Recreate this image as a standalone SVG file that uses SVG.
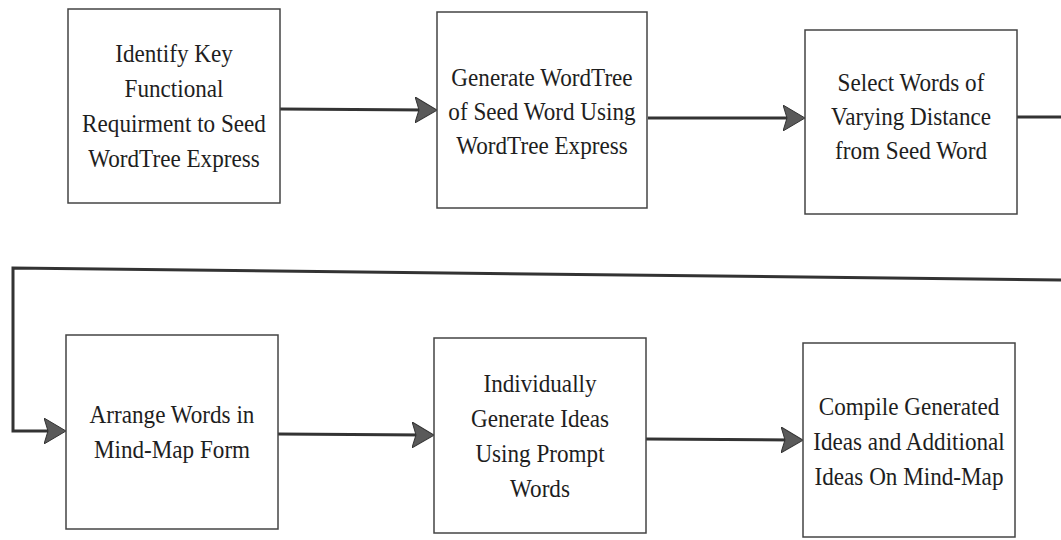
<svg xmlns="http://www.w3.org/2000/svg" width="1061" height="540" viewBox="0 0 1061 540">
<style>
.box{fill:#ffffff;stroke:#444;stroke-width:1.5}
.lbl{font-family:"Liberation Serif","Times New Roman",serif;font-size:26px;fill:#1e1e1e;text-anchor:middle}
.con{fill:none;stroke:#333;stroke-width:3}
</style>
<defs>
<marker id="ah" markerUnits="userSpaceOnUse" viewBox="0 0 22 26" refX="12" refY="13" markerWidth="22" markerHeight="26" orient="auto">
<path d="M0,0 L22,13 L0,26 L4,13 Z" fill="#5a5a5a" stroke="#333" stroke-width="1"/>
</marker>
</defs>
<rect width="1061" height="540" fill="#ffffff"/>
<g id="connectors">
<path class="con" d="M280,109 L427,110" marker-end="url(#ah)"/>
<path class="con" d="M648,118 L795,118" marker-end="url(#ah)"/>
<path class="con" d="M1017,117 L1061,117"/>
<path class="con" d="M1061,280 L13,268 L13,431 L56,431" marker-end="url(#ah)"/>
<path class="con" d="M278,434 L424,435" marker-end="url(#ah)"/>
<path class="con" d="M646,439 L793,440" marker-end="url(#ah)"/>
</g>
<g id="n1">
<rect class="box" x="68" y="9" width="212" height="194"/>
<text class="lbl" transform="translate(174,0) scale(0.89,1)"><tspan x="0" y="62">Identify Key</tspan><tspan x="0" y="97">Functional</tspan><tspan x="0" y="132">Requirment to Seed</tspan><tspan x="0" y="167">WordTree Express</tspan></text>
</g>
<g id="n2">
<rect class="box" x="437" y="12" width="210" height="196"/>
<text class="lbl" transform="translate(542,0) scale(0.89,1)"><tspan x="0" y="86">Generate WordTree</tspan><tspan x="0" y="120">of Seed Word Using</tspan><tspan x="0" y="154">WordTree Express</tspan></text>
</g>
<g id="n3">
<rect class="box" x="805" y="30" width="212" height="184"/>
<text class="lbl" transform="translate(911,0) scale(0.89,1)"><tspan x="0" y="91">Select Words of</tspan><tspan x="0" y="125">Varying Distance</tspan><tspan x="0" y="159">from Seed Word</tspan></text>
</g>
<g id="n4">
<rect class="box" x="66" y="335" width="212" height="194"/>
<text class="lbl" transform="translate(172,0) scale(0.89,1)"><tspan x="0" y="423">Arrange Words in</tspan><tspan x="0" y="458">Mind-Map Form</tspan></text>
</g>
<g id="n5">
<rect class="box" x="434" y="338" width="212" height="195"/>
<text class="lbl" transform="translate(540,0) scale(0.89,1)"><tspan x="0" y="392">Individually</tspan><tspan x="0" y="427">Generate Ideas</tspan><tspan x="0" y="462">Using Prompt</tspan><tspan x="0" y="497">Words</tspan></text>
</g>
<g id="n6">
<rect class="box" x="803" y="343" width="212" height="194"/>
<text class="lbl" transform="translate(909,0) scale(0.89,1)"><tspan x="0" y="415">Compile Generated</tspan><tspan x="0" y="450">Ideas and Additional</tspan><tspan x="0" y="485">Ideas On Mind-Map</tspan></text>
</g>
</svg>
